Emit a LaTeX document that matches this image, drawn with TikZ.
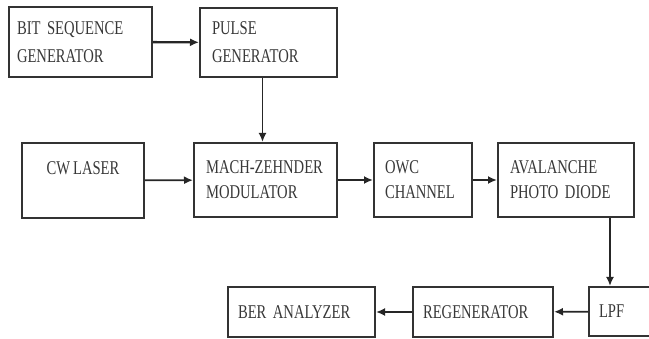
\documentclass[tikz,border=0pt]{standalone}
\usepackage{fontspec}
\setmainfont{Liberation Serif}[FakeStretch=0.75,WordSpace={0.8,0,0}]
\usetikzlibrary{arrows.meta,calc}
\begin{document}
\begin{tikzpicture}[x=1pt,y=-1pt,
  blk/.style={draw=black!80,line width=2pt,rectangle,inner sep=0pt,
    font=\fontsize{19.5}{25}\selectfont,text=black!78,align=left},
  conn/.style={draw=black!85,line width=1.8pt,-{Latex[length=9pt,width=8pt]}}]
\useasboundingbox (0,0) rectangle (649,339);
\node[blk,minimum width=143pt,minimum height=70pt,text width=127pt] (bsg) at (80.5,42) {\mbox{BIT SEQUENCE}\\[3pt]GENERATOR};
\node[blk,minimum width=137pt,minimum height=69pt,text width=113pt] (pg) at (268.5,42.5) {PULSE\\[3pt]GENERATOR};
\node[blk,minimum width=122pt,minimum height=75pt,align=center] (cw) at (83,180.5) {CW LASER\\\mbox{}};
\node[blk,minimum width=143pt,minimum height=74pt,text width=119pt] (mzm) at (265.5,180) {MACH-ZEHNDER\\MODULATOR};
\node[blk,minimum width=98pt,minimum height=74pt,text width=76pt] (owc) at (423,180) {OWC\\CHANNEL};
\node[blk,minimum width=136pt,minimum height=74pt,text width=112pt] (apd) at (566,180) {AVALANCHE\\\mbox{PHOTO DIODE}};
\node[blk,minimum width=101pt,minimum height=49pt,text width=81pt] (lpf) at (639.5,311.5) {LPF};
\node[blk,minimum width=140pt,minimum height=50pt,text width=120pt] (reg) at (483,312) {REGENERATOR};
\node[blk,minimum width=147pt,minimum height=50pt,text width=127pt] (ber) at (301.5,312) {\mbox{BER ANALYZER}};
\draw[conn,line width=2.4pt] (bsg) -- (pg);
\draw[conn] ([xshift=-6pt]pg.south) -- ([xshift=-6pt]pg.south |- mzm.north);
\draw[conn] (cw) -- (mzm);
\draw[conn] (mzm) -- (owc);
\draw[conn] (owc) -- (apd);
\draw[conn] ([xshift=44pt]apd.south) -- ([xshift=44pt]apd.south |- lpf.north);
\draw[conn] (lpf) -- (reg);
\draw[conn] (reg) -- (ber);
\end{tikzpicture}
\end{document}
